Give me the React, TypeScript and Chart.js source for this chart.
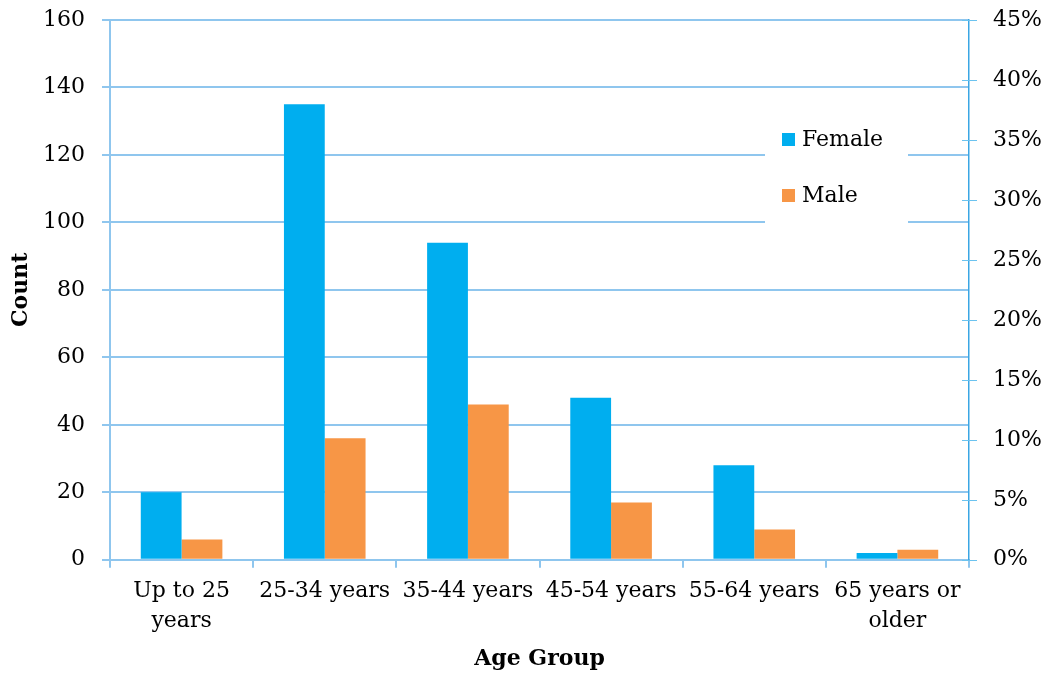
import React, { useEffect, useRef } from "react";
import { Chart, registerables } from "chart.js";

Chart.register(...registerables);

const categories: (string | string[])[] = [
  ["Up to 25", "years"],
  "25-34 years",
  "35-44 years",
  "45-54 years",
  "55-64 years",
  ["65 years or", "older"],
];
const femaleCounts = [20, 135, 94, 48, 28, 2];
const maleCounts = [6, 36, 46, 17, 9, 3];
const seriesNames = ["Female", "Male"];
const seriesColors = ["#00AEEF", "#F79646"];

const FONT = "'DejaVu Serif', 'Liberation Serif', serif";
const GRID = "#8fc6ee";

const legendPlugin = {
  id: "insideLegend",
  afterDatasetsDraw(chart: any) {
    const { ctx, chartArea } = chart;
    const x0 = chartArea.right - 204;
    const y0 = chartArea.top + 92;
    ctx.save();
    ctx.fillStyle = "#ffffff";
    ctx.fillRect(x0, y0, 143, 112);
    ctx.font = `22px ${FONT}`;
    ctx.textBaseline = "middle";
    seriesNames.forEach((name, i) => {
      const cy = y0 + 28 + i * 56;
      ctx.fillStyle = seriesColors[i];
      ctx.fillRect(x0 + 17, cy - 7, 13, 13);
      ctx.fillStyle = "#000000";
      ctx.fillText(name, x0 + 37, cy);
    });
    ctx.restore();
  },
};

const tickMarksPlugin = {
  id: "tickMarks",
  afterDraw(chart: any) {
    const { ctx } = chart;
    ctx.save();
    const y = chart.scales.y;
    if (y) {
      ctx.strokeStyle = GRID;
      ctx.lineWidth = 2;
      y.ticks.forEach((t: any) => {
        const py = Math.round(y.getPixelForValue(t.value));
        ctx.beginPath();
        ctx.moveTo(y.right - 8, py);
        ctx.lineTo(y.right, py);
        ctx.stroke();
      });
    }
    const s = chart.scales.y1;
    if (s) {
      ctx.strokeStyle = "#6cc3ef";
      ctx.lineWidth = 1;
      s.ticks.forEach((t: any) => {
        const py = Math.round(s.getPixelForValue(t.value)) + 0.5;
        ctx.beginPath();
        ctx.moveTo(s.left - 7, py);
        ctx.lineTo(s.left + 8, py);
        ctx.stroke();
      });
    }
    ctx.restore();
  },
};

export default function App() {
  const ref = useRef<HTMLCanvasElement | null>(null);
  useEffect(() => {
    document.body.style.margin = "0";
    if (!ref.current) return;
    const chart = new Chart(ref.current, {
      type: "bar",
      data: {
        labels: categories,
        datasets: [
          {
            label: seriesNames[0],
            data: femaleCounts,
            backgroundColor: seriesColors[0],
            categoryPercentage: 0.57,
            barPercentage: 1,
            yAxisID: "y",
          },
          {
            label: seriesNames[1],
            data: maleCounts,
            backgroundColor: seriesColors[1],
            categoryPercentage: 0.57,
            barPercentage: 1,
            yAxisID: "y",
          },
        ],
      },
      options: {
        responsive: false,
        animation: false,
        layout: { padding: { top: 20, right: 0, left: 4, bottom: 3 } },
        plugins: {
          legend: { display: false },
          tooltip: { enabled: false },
        },
        scales: {
          x: {
            grid: {
              offset: true,
              drawOnChartArea: false,
              color: GRID,
              lineWidth: 2,
              tickLength: 8,
            },
            border: { color: GRID, width: 2 },
            ticks: {
              color: "#000",
              font: { family: FONT, size: 22, lineHeight: 1.36 },
              maxRotation: 0,
              autoSkip: false,
              padding: 9,
            },
            title: {
              display: true,
              text: "Age Group",
              color: "#000",
              font: { family: FONT, size: 22, weight: "bold" },
              padding: { top: 0, bottom: 0 },
            },
          },
          y: {
            position: "left",
            min: 0,
            max: 160,
            afterFit: (s: any) => {
              s.width = 106;
            },
            ticks: {
              stepSize: 20,
              color: "#000",
              font: { family: FONT, size: 22 },
              padding: 0,
            },
            grid: { color: GRID, lineWidth: 2, tickLength: 25, tickColor: "rgba(0,0,0,0)" },
            border: { color: GRID, width: 2 },
            title: {
              display: true,
              text: "Count",
              color: "#000",
              font: { family: FONT, size: 22, weight: "bold" },
              padding: { bottom: 10 },
            },
          },
          y1: {
            position: "right",
            min: 0,
            max: 0.45,
            afterFit: (s: any) => {
              s.width = 81;
            },
            ticks: {
              stepSize: 0.05,
              color: "#000",
              font: { family: FONT, size: 22 },
              padding: 0,
              callback: (v: any) => `${Math.round(Number(v) * 100)}%`,
            },
            grid: { drawOnChartArea: false, tickLength: 24, tickColor: "rgba(0,0,0,0)" },
            border: { color: "#3aa6e4", width: 1.5 },
          },
        },
      },
      plugins: [legendPlugin, tickMarksPlugin],
    });
    return () => chart.destroy();
  }, []);
  return (
    <div style={{ width: 1050, height: 675 }}>
      <canvas ref={ref} width={1050} height={675} />
    </div>
  );
}
